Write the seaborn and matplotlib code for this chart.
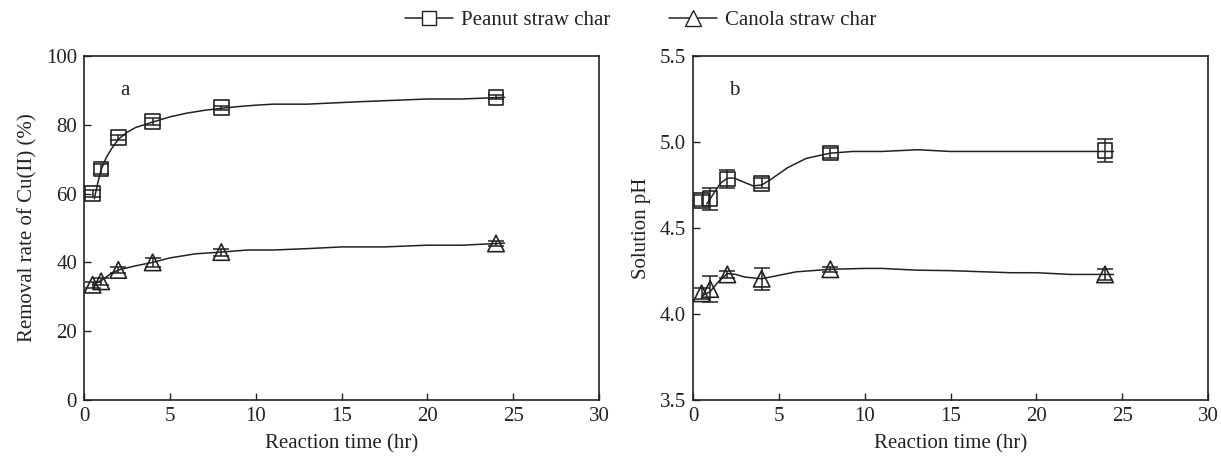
import numpy as np
import pandas as pd
import matplotlib
matplotlib.use("Agg")
import matplotlib.pyplot as plt
from matplotlib.lines import Line2D
import seaborn as sns

# ---- data ----
time_h = [0.5, 1, 2, 4, 8, 24]

peanut_removal = [60.0, 67.2, 76.3, 80.9, 85.0, 88.0]
peanut_removal_err = [1.0, 1.5, 0.6, 1.0, 0.6, 0.6]
canola_removal = [33.5, 34.5, 37.8, 40.0, 43.0, 45.5]
canola_removal_err = [0.8, 1.0, 1.0, 1.2, 1.0, 0.6]

peanut_ph = [4.66, 4.67, 4.785, 4.76, 4.935, 4.95]
peanut_ph_err = [0.03, 0.065, 0.05, 0.03, 0.03, 0.068]
canola_ph = [4.12, 4.145, 4.23, 4.205, 4.26, 4.23]
canola_ph_err = [0.03, 0.078, 0.02, 0.065, 0.015, 0.03]

# smooth guide curves
peanut_rem_curve_x = [0.6, 0.8, 1.0, 1.3, 1.6, 2.0, 2.5, 3.0, 4.0, 5.0, 6.0, 7.0, 8.0, 9.0, 10.0, 11.0, 13.0, 16.0, 20.0, 22.0, 24.5]
peanut_rem_curve_y = [58.5, 63, 67, 70.5, 73, 75.8, 77.8, 79.2, 80.8, 82.3, 83.4, 84.2, 84.8, 85.3, 85.7, 86.0, 86.0, 86.7, 87.5, 87.5, 88.0]
canola_rem_curve_x = [0.5, 1.0, 1.5, 2.0, 3.0, 4.0, 5.0, 6.5, 8.0, 9.5, 11.0, 13.0, 15.0, 17.5, 20.0, 22.0, 24.5]
canola_rem_curve_y = [33.5, 34.7, 36.5, 37.8, 39.0, 40.0, 41.3, 42.5, 43.0, 43.6, 43.6, 44.0, 44.5, 44.5, 45.0, 45.0, 45.6]
peanut_ph_curve_x = [0.8, 1.2, 1.6, 2.0, 2.4, 3.0, 3.5, 4.0, 4.5, 5.5, 6.6, 8.0, 9.3, 11.0, 13.1, 15.0, 20.0, 24.5]
peanut_ph_curve_y = [4.64, 4.70, 4.76, 4.79, 4.79, 4.765, 4.745, 4.75, 4.78, 4.85, 4.905, 4.935, 4.945, 4.945, 4.955, 4.945, 4.945, 4.945]
canola_ph_curve_x = [0.6, 1.0, 1.5, 2.0, 2.5, 3.0, 4.0, 5.0, 6.0, 8.0, 10.0, 11.0, 13.0, 15.0, 18.5, 20.0, 22.0, 24.5]
canola_ph_curve_y = [4.11, 4.13, 4.19, 4.235, 4.23, 4.215, 4.205, 4.225, 4.245, 4.26, 4.265, 4.265, 4.255, 4.252, 4.24, 4.24, 4.23, 4.23]

series_names = ["Peanut straw char", "Canola straw char"]
x_label = "Reaction time (hr)"
y_labels = ["Removal rate of Cu(II) (%)", "Solution pH"]
panel_tags = ["a", "b"]

# ---- style ----
sns.set_theme(style="white")
plt.rcParams["font.family"] = ["Liberation Serif", "DejaVu Serif"]
plt.rcParams["mathtext.fontset"] = "stix"
FS = 15
plt.rcParams.update({
    "xtick.direction": "in", "ytick.direction": "in",
    "xtick.major.size": 5, "ytick.major.size": 5,
    "xtick.major.width": 1.0, "ytick.major.width": 1.0,
    "axes.linewidth": 1.2, "axes.edgecolor": "#222222",
    "xtick.color": "#222222", "ytick.color": "#222222",
    "text.color": "#222222", "axes.labelcolor": "#222222",
    "xtick.bottom": True, "ytick.left": True,
})

fig = plt.figure(figsize=(12.21, 4.58), dpi=100)
axL = fig.add_axes([84 / 1221, 58 / 458, 515 / 1221, 344 / 458])
axR = fig.add_axes([693 / 1221, 58 / 458, 515 / 1221, 344 / 458])

def draw(ax, cx1, cy1, cx2, cy2, y1, e1, y2, e2):
    df1 = pd.DataFrame({"x": cx1, "y": cy1})
    df2 = pd.DataFrame({"x": cx2, "y": cy2})
    sns.lineplot(data=df1, x="x", y="y", ax=ax, color="#222222", lw=1.1, sort=False, zorder=2)
    sns.lineplot(data=df2, x="x", y="y", ax=ax, color="#222222", lw=1.1, sort=False, zorder=2)
    ax.errorbar(time_h, y1, yerr=e1, fmt="none", ecolor="#222222", elinewidth=1.1, capsize=6, capthick=1.1, zorder=3)
    ax.errorbar(time_h, y2, yerr=e2, fmt="none", ecolor="#222222", elinewidth=1.1, capsize=6, capthick=1.1, zorder=3)
    sns.scatterplot(x=time_h, y=y1, ax=ax, marker="s", s=110, facecolor="none",
                    edgecolor="#222222", linewidth=1.2, zorder=4)
    sns.scatterplot(x=time_h, y=y2, ax=ax, marker="^", s=140, facecolor="none",
                    edgecolor="#222222", linewidth=1.2, zorder=4)

draw(axL, peanut_rem_curve_x, peanut_rem_curve_y, canola_rem_curve_x, canola_rem_curve_y,
     peanut_removal, peanut_removal_err, canola_removal, canola_removal_err)
draw(axR, peanut_ph_curve_x, peanut_ph_curve_y, canola_ph_curve_x, canola_ph_curve_y,
     peanut_ph, peanut_ph_err, canola_ph, canola_ph_err)

axL.set_xlim(0, 30)
axL.set_ylim(0, 100)
axL.set_xticks([0, 5, 10, 15, 20, 25, 30])
axL.set_yticks([0, 20, 40, 60, 80, 100])
axR.set_xlim(0, 30)
axR.set_ylim(3.5, 5.5)
axR.set_xticks([0, 5, 10, 15, 20, 25, 30])
axR.set_yticks([3.5, 4.0, 4.5, 5.0, 5.5])
axR.set_yticklabels(["3.5", "4.0", "4.5", "5.0", "5.5"])

for ax, yl, tag in zip([axL, axR], y_labels, panel_tags):
    ax.set_xlabel(x_label, fontsize=FS, labelpad=6)
    ax.set_ylabel(yl, fontsize=FS, labelpad=6)
    ax.tick_params(labelsize=FS, pad=5)
    ax.text(0.07, 0.9, tag, transform=ax.transAxes, fontsize=FS, ha="left", va="center")
    for sp in ax.spines.values():
        sp.set_visible(True)

handles = [
    Line2D([], [], color="#222222", lw=1.1, marker="s", markersize=10,
           markerfacecolor="white", markeredgecolor="#222222"),
    Line2D([], [], color="#222222", lw=1.1, marker="^", markersize=11,
           markerfacecolor="white", markeredgecolor="#222222"),
]
fig.legend(handles, series_names, loc="center", bbox_to_anchor=(0.5246, 0.955), ncol=2,
           frameon=False, fontsize=FS, handlelength=2.3, columnspacing=2.8, handletextpad=0.4)

fig.savefig("out.png", dpi=100)
